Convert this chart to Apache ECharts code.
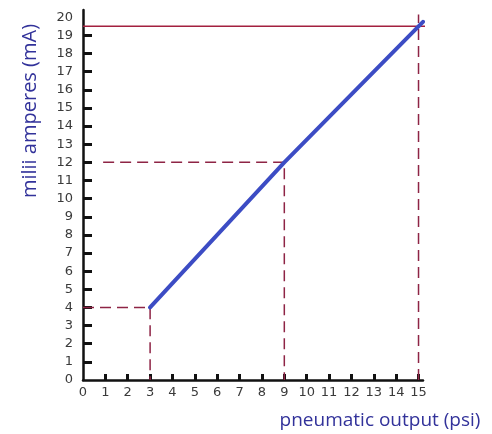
<!DOCTYPE html>
<html>
<head>
<meta charset="utf-8">
<script src="https://cdn.jsdelivr.net/npm/echarts@6/dist/echarts.min.js"></script>
<style>
  html, body { margin: 0; padding: 0; background: #fff; }
  #chart { width: 492px; height: 434px; }
</style>
</head>
<body>
<div id="chart"></div>
<script>
  // tick labels
  var xTicks = [0, 1, 2, 3, 4, 5, 6, 7, 8, 9, 10, 11, 12, 13, 14, 15];
  var yTicks = [0, 1, 2, 3, 4, 5, 6, 7, 8, 9, 10, 11, 12, 13, 14, 15, 16, 17, 18, 19, 20];

  // psi -> mA transfer line
  var transferLine = [[3, 4], [9, 12], [15, 19.5], [15.2, 19.75]];

  // guide lines
  var guide4 = [[0, 4], [3, 4], [3, 0]];
  var guide12 = [[0.9, 12], [9, 12], [9, 0]];
  var guide15 = [[15, 0], [15, 20.15]];
  var fullScale = [[0, 19.5], [15.85, 19.5]];

  var chart = echarts.init(document.getElementById('chart'));

  var guideStyle = {
    color: '#8e2445',
    width: 1.5,
    type: [11, 6]
  };

  chart.setOption({
    animation: false,
    grid: {
      left: 83,
      right: 69,
      top: 10,
      bottom: 54
    },
    xAxis: {
      type: 'value',
      min: 0,
      max: 15.2,
      splitLine: { show: false },
      axisLine: { lineStyle: { color: '#111', width: 2.5 } },
      axisTick: {
        inside: true,
        length: 6,
        customValues: xTicks.slice(1),
        lineStyle: { color: '#111', width: 3 }
      },
      axisLabel: {
        customValues: xTicks,
        margin: 6,
        color: '#3a3a3a',
        fontFamily: 'DejaVu Sans',
        fontSize: 13
      }
    },
    yAxis: {
      type: 'value',
      min: 0,
      max: 20.4,
      splitLine: { show: false },
      axisLine: { lineStyle: { color: '#111', width: 2.5 } },
      axisTick: {
        inside: true,
        length: 9,
        customValues: yTicks.slice(1, 20),
        lineStyle: { color: '#111', width: 3 }
      },
      axisLabel: {
        customValues: yTicks,
        margin: 10,
        color: '#3a3a3a',
        fontFamily: 'DejaVu Sans',
        fontSize: 13
      }
    },
    graphic: [
      {
        type: 'text',
        x: 30,
        y: 111,
        rotation: Math.PI / 2,
        style: {
          text: 'milii amperes (mA)',
          fill: '#32329a',
          font: '20px "Open Sans"',
          align: 'center',
          verticalAlign: 'middle'
        }
      },
      {
        type: 'text',
        x: 380,
        y: 421,
        style: {
          text: 'pneumatic output (psi)',
          fill: '#32329a',
          font: '19px "Open Sans"',
          align: 'center',
          verticalAlign: 'middle'
        }
      }
    ],
    series: [
      {
        name: 'full scale',
        type: 'line',
        data: fullScale,
        symbol: 'none',
        clip: false,
        silent: true,
        lineStyle: { color: '#a3203f', width: 1.5 }
      },
      {
        name: '4 mA',
        type: 'line',
        data: guide4,
        symbol: 'none',
        clip: false,
        silent: true,
        lineStyle: guideStyle
      },
      {
        name: '12 mA',
        type: 'line',
        data: guide12,
        symbol: 'none',
        clip: false,
        silent: true,
        lineStyle: guideStyle
      },
      {
        name: '15 psi',
        type: 'line',
        data: guide15,
        symbol: 'none',
        clip: false,
        silent: true,
        lineStyle: guideStyle
      },
      {
        name: 'output',
        type: 'line',
        data: transferLine,
        symbol: 'none',
        clip: false,
        lineStyle: { color: '#3c4cc4', width: 4, cap: 'round' }
      }
    ]
  });
</script>
</body>
</html>
